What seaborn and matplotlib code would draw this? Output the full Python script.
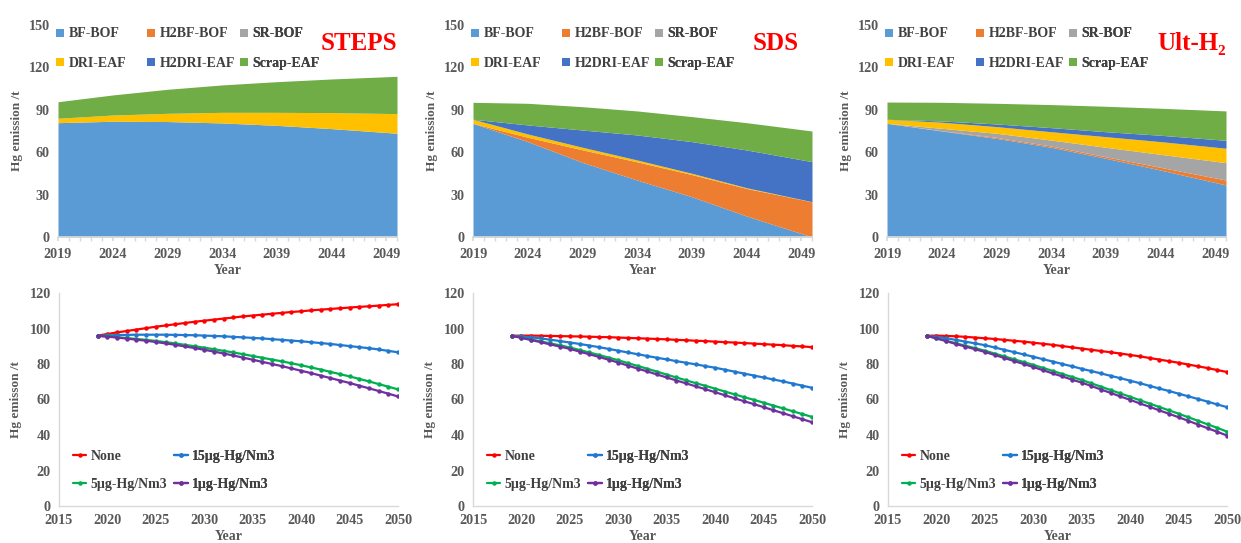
import matplotlib
matplotlib.use("Agg")
import matplotlib.pyplot as plt
from matplotlib.lines import Line2D
from matplotlib.ticker import MultipleLocator
import numpy as np
import pandas as pd
import seaborn as sns

# ---------------- data ----------------
tech_names = ["BF-BOF", "H2BF-BOF", "SR-BOF", "DRI-EAF", "H2DRI-EAF", "Scrap-EAF"]
tech_colors = ["#5B9BD5", "#ED7D31", "#A5A5A5", "#FFC000", "#4472C4", "#70AD47"]
area_years = [2019, 2024, 2029, 2034, 2039, 2044, 2050]

steps_bf    = [80.9, 81.9, 81.7, 80.7, 79.0, 76.7, 73.4]
steps_h2bf  = [0, 0, 0, 0, 0, 0, 0]
steps_sr    = [0, 0, 0, 0, 0, 0, 0]
steps_dri   = [3.1, 4.4, 5.8, 7.5, 9.2, 11.3, 13.9]
steps_h2dri = [0, 0, 0, 0, 0, 0, 0]
steps_scrap = [11.7, 14.2, 17.0, 19.4, 21.7, 23.8, 26.4]

sds_bf    = [80.4, 67.5, 52.8, 40.3, 28.5, 14.9, 0.0]
sds_h2bf  = [0.0, 3.1, 8.9, 12.9, 15.7, 19.5, 24.9]
sds_sr    = [0, 0, 0, 0, 0, 0, 0]
sds_dri   = [2.9, 2.3, 1.8, 1.3, 0.9, 0.5, 0.1]
sds_h2dri = [0.0, 6.4, 12.2, 17.7, 22.4, 26.7, 28.3]
sds_scrap = [12.0, 15.3, 16.5, 17.0, 17.7, 19.3, 21.7]

ult_bf    = [80.4, 75.0, 69.8, 63.5, 55.7, 47.4, 36.8]
ult_h2bf  = [0.0, 0.2, 0.7, 0.9, 1.1, 1.9, 3.5]
ult_sr    = [0.0, 1.7, 2.9, 4.2, 6.7, 9.2, 12.3]
ult_dri   = [2.9, 4.3, 4.7, 5.9, 7.5, 9.0, 10.2]
ult_h2dri = [0.0, 0.9, 1.9, 2.9, 3.5, 4.5, 5.6]
ult_scrap = [12.2, 13.2, 14.6, 16.3, 18.0, 19.1, 20.8]

scenario_names = ["STEPS", "SDS", "Ult-H\u2082"]

control_names = ["None", "15\u00b5g-Hg/Nm3", "5\u00b5g-Hg/Nm3", "1\u00b5g-Hg/Nm3"]
control_colors = ["#FF0000", "#1F78D1", "#00B050", "#7030A0"]
line_years = [2019, 2020, 2021, 2022, 2023, 2024, 2025, 2026, 2027, 2028, 2029,
              2030, 2031, 2032, 2033, 2034, 2035, 2036, 2037, 2038, 2039, 2040,
              2041, 2042, 2043, 2044, 2045, 2046, 2047, 2048, 2049, 2050]

steps_none = [96.0, 96.9, 97.8, 98.6, 99.4, 100.2, 101.0, 101.7, 102.4, 103.1, 103.8,
              104.4, 105.0, 105.6, 106.2, 106.8, 107.3, 107.8, 108.3, 108.8, 109.3, 109.7,
              110.2, 110.6, 111.0, 111.4, 111.8, 112.2, 112.5, 112.9, 113.3, 113.7]
steps_15 = [95.9, 96.1, 96.3, 96.4, 96.5, 96.5, 96.5, 96.5, 96.4, 96.3, 96.2,
            96.0, 95.8, 95.6, 95.3, 95.0, 94.7, 94.4, 94.0, 93.6, 93.2, 92.8,
            92.3, 91.8, 91.3, 90.7, 90.1, 89.5, 88.9, 88.2, 87.4, 86.6]
steps_5 = [95.9, 95.5, 95.1, 94.6, 94.1, 93.6, 93.0, 92.3, 91.6, 90.8, 90.0,
           89.2, 88.3, 87.4, 86.5, 85.5, 84.5, 83.5, 82.5, 81.5, 80.4, 79.3,
           78.1, 76.9, 75.6, 74.3, 73.0, 71.6, 70.2, 68.7, 67.2, 65.7]
steps_1 = [95.9, 95.4, 94.9, 94.3, 93.7, 93.1, 92.4, 91.6, 90.8, 89.9, 89.0,
           88.0, 87.0, 85.9, 84.8, 83.6, 82.4, 81.2, 80.0, 78.8, 77.5, 76.2,
           74.9, 73.5, 72.1, 70.7, 69.3, 67.8, 66.3, 64.8, 63.3, 61.7]

sds_none = [95.9, 96.0, 96.0, 95.9, 95.8, 95.7, 95.6, 95.5, 95.4, 95.2, 95.1,
            94.9, 94.7, 94.5, 94.3, 94.1, 93.9, 93.6, 93.4, 93.1, 92.9, 92.6,
            92.3, 92.1, 91.8, 91.5, 91.2, 90.9, 90.6, 90.2, 89.9, 89.5]
sds_15 = [95.9, 95.5, 95.0, 94.4, 93.7, 92.9, 92.1, 91.3, 90.4, 89.5, 88.5,
          87.5, 86.5, 85.5, 84.5, 83.5, 82.6, 81.6, 80.7, 79.8, 78.8, 77.9,
          76.8, 75.7, 74.6, 73.5, 72.4, 71.3, 70.2, 69.0, 67.8, 66.6]
sds_5 = [95.9, 94.9, 93.8, 92.7, 91.6, 90.5, 89.3, 87.9, 86.5, 85.1, 83.6,
         82.1, 80.5, 78.9, 77.3, 75.7, 74.0, 72.4, 70.8, 69.2, 67.7, 66.1,
         64.5, 62.9, 61.3, 59.8, 58.2, 56.6, 55.0, 53.4, 51.8, 50.2]
sds_1 = [95.9, 94.7, 93.5, 92.3, 91.0, 89.8, 88.5, 87.0, 85.5, 84.0, 82.4,
         80.8, 79.1, 77.4, 75.8, 74.1, 72.4, 70.7, 69.1, 67.4, 65.8, 64.1,
         62.4, 60.7, 59.0, 57.4, 55.7, 54.0, 52.3, 50.6, 48.9, 47.2]

ult_none = [95.9, 96.0, 95.8, 95.6, 95.3, 94.9, 94.5, 94.1, 93.6, 93.1, 92.6,
            92.0, 91.4, 90.8, 90.1, 89.4, 88.7, 88.0, 87.3, 86.6, 85.9, 85.1,
            84.3, 83.4, 82.5, 81.6, 80.7, 79.7, 78.7, 77.7, 76.6, 75.5]
ult_15 = [95.9, 95.3, 94.5, 93.6, 92.6, 91.6, 90.6, 89.3, 88.0, 86.7, 85.4,
          84.1, 82.7, 81.4, 80.0, 78.7, 77.3, 76.0, 74.7, 73.3, 72.0, 70.6,
          69.2, 67.7, 66.2, 64.8, 63.3, 61.8, 60.3, 58.8, 57.2, 55.7]
ult_5 = [95.9, 94.5, 93.1, 91.7, 90.3, 88.9, 87.5, 85.9, 84.3, 82.7, 81.1,
         79.5, 77.8, 76.1, 74.4, 72.7, 71.0, 69.1, 67.2, 65.3, 63.4, 61.5,
         59.6, 57.7, 55.8, 53.9, 52.0, 50.0, 48.0, 46.0, 44.0, 41.9]
ult_1 = [95.9, 94.4, 92.9, 91.3, 89.8, 88.3, 86.8, 85.1, 83.4, 81.7, 80.0,
         78.3, 76.5, 74.7, 73.0, 71.2, 69.5, 67.6, 65.6, 63.7, 61.7, 59.8,
         57.8, 55.9, 53.9, 52.0, 50.0, 48.0, 45.9, 43.8, 41.8, 39.7]

area_sets = [
    [steps_bf, steps_h2bf, steps_sr, steps_dri, steps_h2dri, steps_scrap],
    [sds_bf, sds_h2bf, sds_sr, sds_dri, sds_h2dri, sds_scrap],
    [ult_bf, ult_h2bf, ult_sr, ult_dri, ult_h2dri, ult_scrap],
]
line_sets = [
    [steps_none, steps_15, steps_5, steps_1],
    [sds_none, sds_15, sds_5, sds_1],
    [ult_none, ult_15, ult_5, ult_1],
]

# ---------------- style ----------------
sns.set_theme(style="white")
plt.rcParams["font.family"] = ["Liberation Serif", "DejaVu Serif"]
plt.rcParams["font.weight"] = "bold"
plt.rcParams["axes.labelweight"] = "bold"

TICK_C = "#595959"
LEG_C = "#404040"
SPINE_C = "#D9D9D9"
TFS = 10.2   # tick label size
LFS = 9.5    # axis label size
GFS = 10.0   # legend size

W, H = 1241, 543
fig = plt.figure(figsize=(W / 100, H / 100), dpi=100)


def axes_px(left, right, top, bottom):
    return fig.add_axes([left / W, 1 - bottom / H, (right - left) / W, (bottom - top) / H])


def column_legends(ax, handles, labels, xs, ycenter, spacing, hl):
    """One small legend per column so that columns sit at fixed x positions
    (row-major order like the original)."""
    ncol = len(xs)
    for c, x in enumerate(xs):
        hs = handles[c::ncol]
        ls = labels[c::ncol]
        lg = ax.legend(hs, ls, loc="center left", bbox_to_anchor=(x, ycenter),
                       frameon=False, fontsize=GFS, handlelength=hl,
                       handletextpad=0.3, labelspacing=spacing,
                       borderpad=0, borderaxespad=0)
        for t in lg.get_texts():
            t.set_color(LEG_C)
        ax.add_artist(lg)


top_lefts = [58, 473, 887]
bot_lefts = [59, 473, 888]
title_x = [1.0, 0.96, 1.0]

for i in range(3):
    # ---- top stacked area ----
    ax = axes_px(top_lefts[i], top_lefts[i] + 339, 25, 237)
    ax.stackplot(area_years, *area_sets[i], colors=tech_colors, linewidth=0)
    ax.set_xlim(2019, 2050)
    ax.set_ylim(0, 150)
    ax.set_yticks([0, 30, 60, 90, 120, 150])
    ax.set_xticks([2019, 2024, 2029, 2034, 2039, 2044, 2049])
    ax.xaxis.set_minor_locator(MultipleLocator(1))
    for s in ["top", "right", "left"]:
        ax.spines[s].set_visible(False)
    ax.spines["bottom"].set_color(SPINE_C)
    ax.tick_params(axis="x", which="both", direction="out", colors=SPINE_C,
                   labelcolor=TICK_C, labelsize=TFS, bottom=True)
    ax.tick_params(axis="x", which="major", length=3, pad=5)
    ax.tick_params(axis="x", which="minor", length=3)
    ax.tick_params(axis="y", length=0, labelcolor=TICK_C, labelsize=TFS, pad=6)
    ax.set_xlabel("Year", fontsize=LFS + 0.5, color=TICK_C, labelpad=2)
    ax.set_ylabel("Hg emission /t", fontsize=LFS, color=TICK_C, labelpad=4)
    handles = [Line2D([0], [0], marker="s", linestyle="", markersize=6,
                      markerfacecolor=c, markeredgewidth=0) for c in tech_colors]
    column_legends(ax, handles, tech_names, [-0.005, 0.262, 0.535], 0.888, 1.2, 0.6)
    ax.text(title_x[i], 0.915, scenario_names[i], transform=ax.transAxes,
            ha="right", va="center", color="#FF0000", fontsize=18, fontweight="bold")

    # ---- bottom lines ----
    bx = axes_px(bot_lefts[i], bot_lefts[i] + 339, 293, 506)
    rows = []
    for name, vals in zip(control_names, line_sets[i]):
        for y, v in zip(line_years, vals):
            rows.append({"Year": y, "Hg": v, "Control": name})
    df = pd.DataFrame(rows)
    sns.lineplot(data=df, x="Year", y="Hg", hue="Control", hue_order=control_names,
                 palette=dict(zip(control_names, control_colors)), marker="o",
                 markersize=3.2, markeredgewidth=0, linewidth=1.6, legend=False, ax=bx)
    bx.set_xlim(2015, 2050)
    bx.set_ylim(0, 120)
    bx.set_xticks([2015, 2020, 2025, 2030, 2035, 2040, 2045, 2050])
    bx.set_yticks([0, 20, 40, 60, 80, 100, 120])
    for s in ["top", "right"]:
        bx.spines[s].set_visible(False)
    for s in ["bottom", "left"]:
        bx.spines[s].set_color(SPINE_C)
        bx.spines[s].set_linewidth(1.0)
    bx.tick_params(axis="both", length=0, labelcolor=TICK_C, labelsize=TFS)
    bx.tick_params(axis="x", pad=6)
    bx.tick_params(axis="y", pad=6)
    bx.set_xlabel("Year", fontsize=LFS + 0.5, color=TICK_C, labelpad=2)
    bx.set_ylabel("Hg emisson /t", fontsize=LFS, color=TICK_C, labelpad=5)
    lh = [Line2D([0], [0], color=c, marker="o", markersize=3.2, markeredgewidth=0,
                 linewidth=1.6) for c in control_colors]
    column_legends(bx, lh, control_names, [0.04, 0.34], 0.168, 1.1, 1.0)

fig.savefig("out.png", dpi=100)
